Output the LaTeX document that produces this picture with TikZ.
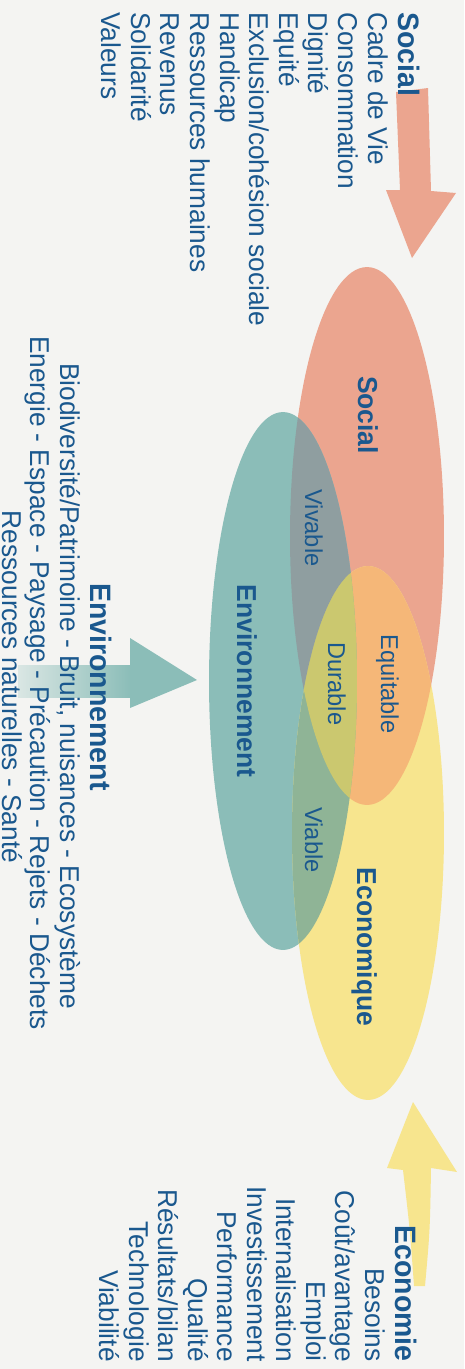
\documentclass[tikz,border=0pt]{standalone}
\usepackage{fontspec}
\setmainfont{Liberation Sans}[FakeStretch=0.965]
\usepackage{tikz}
\usetikzlibrary{shapes.geometric,
                calc}

\definecolor{txtblue}{RGB}{26,88,142}
\definecolor{paper}{RGB}{244,244,242}
\definecolor{socialc}{RGB}{235,165,143}
\definecolor{envc}{RGB}{139,189,184}
\definecolor{ecoc}{RGB}{247,229,142}
\definecolor{socenv}{RGB}{143,158,160}
\definecolor{soceco}{RGB}{245,183,120}
\definecolor{enveco}{RGB}{143,180,150}
\definecolor{allc}{RGB}{203,200,111}

\begin{document}
\begin{tikzpicture}[x=0.02cm, y=-0.02cm,
                    txt/.style={rotate=-90, inner sep=0, text=txtblue, font=\fontsize{15.5}{18}\selectfont},
                    head/.style={txt, font=\fontsize{16.8}{20}\selectfont\bfseries},
                    inlabel/.style={txt, font=\fontsize{13.9}{16}\selectfont},
                    inhead/.style={txt, font=\fontsize{15.6}{18}\selectfont\bfseries},
                    Sell/.style={x radius=1.54cm, y radius=5.38cm},
                    Eell/.style={x radius=1.48cm, y radius=5.38cm},
                    Cell/.style={x radius=1.52cm, y radius=5.34cm}
                    ]
    % page
    \fill[paper] (0,0) rectangle (464,1369);
    \useasboundingbox (0,0) rectangle (464,1369);

    % ellipse centres
    \coordinate (S) at (367,536);
    \coordinate (E) at (283,681);
    \coordinate (C) at (368,833);

    % the three ellipses
    \fill[socialc] (S) ellipse [Sell];
    \fill[envc]    (E) ellipse [Eell];
    \fill[ecoc]    (C) ellipse [Cell];

    % overlaps
    \begin{scope}
        \clip (S) ellipse [Sell];
        \fill[socenv] (E) ellipse [Eell];
        \fill[soceco] (C) ellipse [Cell];
    \end{scope}
    \begin{scope}
        \clip (E) ellipse [Eell];
        \fill[enveco] (C) ellipse [Cell];
    \end{scope}
    \begin{scope}
        \clip (S) ellipse [Sell];
        \clip (E) ellipse [Eell];
        \fill[allc] (C) ellipse [Cell];
    \end{scope}

    % big arrows
    \fill[socialc] (396,92) .. controls (398,140) .. (400,190) -- (386,190) -- (412,258)
                   -- (456,193) -- (431,191) .. controls (430,140) .. (428,88) -- cycle;
    \shade[left color=envc!25!paper, right color=envc] (18,665) rectangle (131,697);
    \fill[envc] (130,665) -- (130,638) -- (197,680) -- (130,708) -- (130,697) -- cycle;
    \fill[ecoc] (413,1102) -- (457,1172) -- (431,1168) .. controls (430,1230) .. (425,1286)
                -- (414,1286) .. controls (410,1230) .. (403,1170) -- (387,1168) -- cycle;

    % labels inside
    \node[inhead,  anchor=base] (lSoc) at (358,415) {Social};
    \node[inlabel, anchor=base] (lViv) at (305,528) {Vivable};
    \node[inlabel, anchor=base] (lEqu) at (381,684) {Equitable};
    \node[inlabel, anchor=base] (lDur) at (328,684) {Durable};
    \node[inhead,  anchor=base] (lEnv) at (237,681) {Environnement};
    \node[inlabel, anchor=base] (lVia) at (305,840) {Viable};
    \node[inhead,  anchor=base] (lEco) at (357,947) {Economique};

    % social list
    \node[head, anchor=base west] (soc0)  at (398,12)   {Social};
    \node[txt,  anchor=base west] (soc1)  at (368,12)   {Cadre de Vie};
    \node[txt,  anchor=base west] (soc2)  at (338.4,12) {Consommation};
    \node[txt,  anchor=base west] (soc3)  at (308.8,12) {Dignité};
    \node[txt,  anchor=base west] (soc4)  at (279.2,12) {Equité};
    \node[txt,  anchor=base west] (soc5)  at (249.6,12) {Exclusion/cohésion sociale};
    \node[txt,  anchor=base west] (soc6)  at (220,12)   {Handicap};
    \node[txt,  anchor=base west] (soc7)  at (190.4,12) {Ressources humaines};
    \node[txt,  anchor=base west] (soc8)  at (160.8,12) {Revenus};
    \node[txt,  anchor=base west] (soc9)  at (131.2,12) {Solidarité};
    \node[txt,  anchor=base west] (soc10) at (101.6,12) {Valeurs};

    % environment list
    \node[head, anchor=base] (env0) at (90,687) {Environnement};
    \node[txt,  anchor=base] (env1) at (60,686) {Biodiversité/Patrimoine - Bruit, nuisances - Ecosystème};
    \node[txt,  anchor=base] (env2) at (31,683) {Energie - Espace - Paysage - Précaution - Rejets - Déchets};
    \node[txt,  anchor=base] (env3) at (3,687)  {Ressources naturelles - Santé};

    % economy list
    \node[head, anchor=base east] (eco0)  at (395,1362)   {Economie};
    \node[txt,  anchor=base east] (eco1)  at (365,1362)   {Besoins};
    \node[txt,  anchor=base east] (eco2)  at (335.5,1362) {Coût/avantage};
    \node[txt,  anchor=base east] (eco3)  at (306,1362)   {Emploi};
    \node[txt,  anchor=base east] (eco4)  at (276.5,1362) {Internalisation};
    \node[txt,  anchor=base east] (eco5)  at (247,1362)   {Investissement};
    \node[txt,  anchor=base east] (eco6)  at (217.5,1362) {Performance};
    \node[txt,  anchor=base east] (eco7)  at (188,1362)   {Qualité};
    \node[txt,  anchor=base east] (eco8)  at (158.5,1362) {Résultats/bilan};
    \node[txt,  anchor=base east] (eco9)  at (129,1362)   {Technologie};
    \node[txt,  anchor=base east] (eco10) at (99.5,1362)  {Viabilité};
\end{tikzpicture}
\end{document}
